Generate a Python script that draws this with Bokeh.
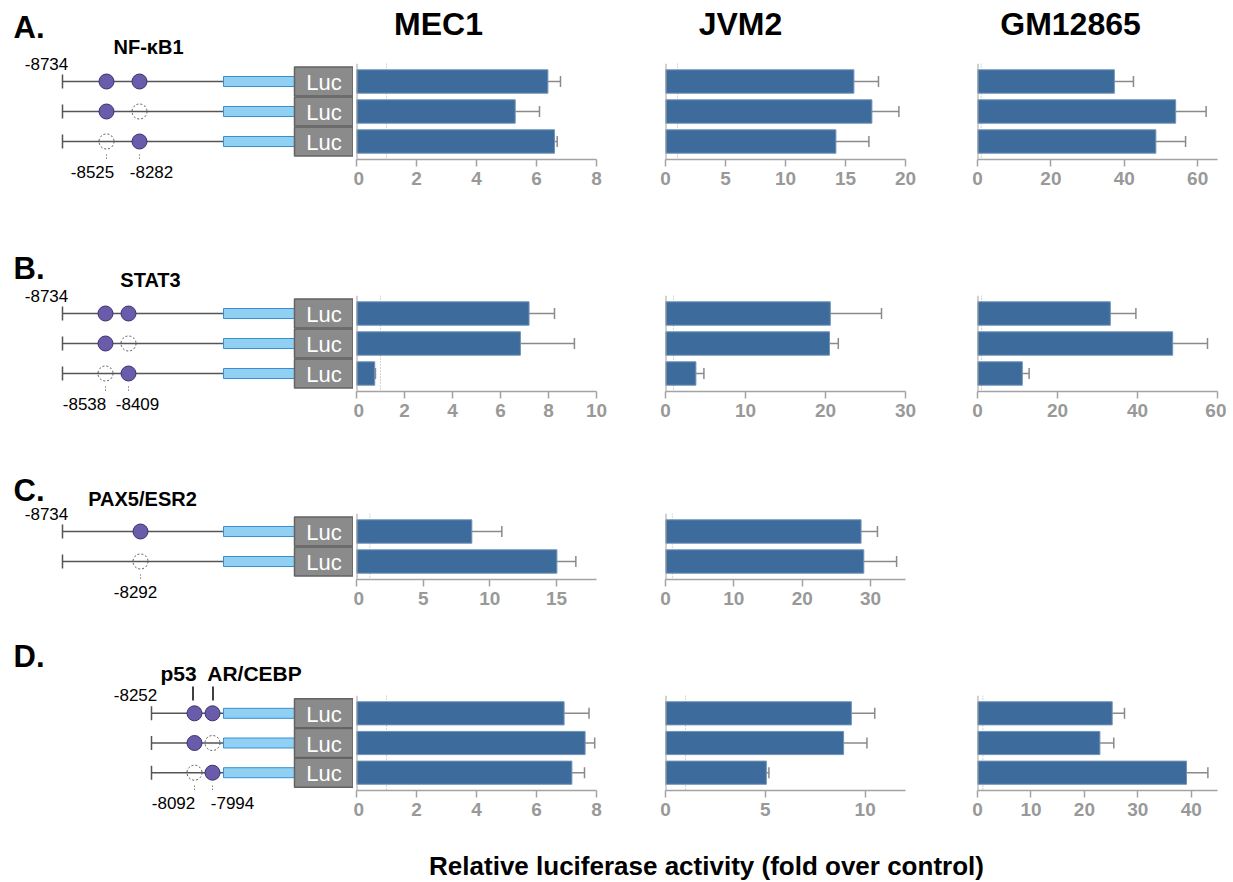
from bokeh.plotting import figure
from bokeh.models import Range1d, FixedTicker, Span, Whisker, TeeHead, ColumnDataSource, Spacer
from bokeh.layouts import row, column
from bokeh.core.properties import value
from bokeh.embed import file_html
from bokeh.resources import INLINE

# ------------------------------------------------------------------ data
cell_lines = ["MEC1", "JVM2", "GM12865"]
panel_letters = ["A.", "B.", "C.", "D."]
x_title = "Relative luciferase activity (fold over control)"

# panel A : NF-kB1 sites (1 = intact, 0 = mutated)
A_factor = "NF-κB1"
A_start = "-8734"
A_site_labels = ["-8525", "-8282"]
A_constructs = [[1, 1], [1, 0], [0, 1]]
A_MEC1 = [6.38, 5.29, 6.60]
A_MEC1_err = [0.42, 0.81, 0.09]
A_JVM2 = [15.7, 17.2, 14.2]
A_JVM2_err = [2.05, 2.25, 2.75]
A_GM = [37.3, 54.0, 48.6]
A_GM_err = [5.2, 8.3, 8.1]
A_ticks = [[0, 2, 4, 6, 8], [0, 5, 10, 15, 20], [0, 20, 40, 60]]
A_xmax = [8, 20, 65.4]

# panel B : STAT3
B_factor = "STAT3"
B_start = "-8734"
B_site_labels = ["-8538", "-8409"]
B_constructs = [[1, 1], [1, 0], [0, 1]]
B_MEC1 = [7.19, 6.83, 0.76]
B_MEC1_err = [1.06, 2.25, 0.03]
B_JVM2 = [20.6, 20.5, 3.8]
B_JVM2_err = [6.4, 1.1, 1.0]
B_GM = [33.2, 48.8, 11.2]
B_GM_err = [6.4, 8.7, 1.7]
B_ticks = [[0, 2, 4, 6, 8, 10], [0, 10, 20, 30], [0, 20, 40, 60]]
B_xmax = [10, 30, 60]

# panel C : PAX5/ESR2
C_factor = "PAX5/ESR2"
C_start = "-8734"
C_site_labels = ["-8292"]
C_constructs = [[1], [0]]
C_MEC1 = [8.65, 15.03]
C_MEC1_err = [2.25, 1.42]
C_JVM2 = [28.6, 29.0]
C_JVM2_err = [2.4, 4.8]
C_ticks = [[0, 5, 10, 15], [0, 10, 20, 30]]
C_xmax = [18, 35.1]

# panel D : p53 and AR/CEBP
D_factors = ["p53", "AR/CEBP"]
D_start = "-8252"
D_site_labels = ["-8092", "-7994"]
D_constructs = [[1, 1], [1, 0], [0, 1]]
D_MEC1 = [6.92, 7.62, 7.18]
D_MEC1_err = [0.83, 0.32, 0.42]
D_JVM2 = [9.31, 8.92, 5.05]
D_JVM2_err = [1.17, 1.17, 0.13]
D_GM = [25.2, 22.9, 39.1]
D_GM_err = [2.3, 2.6, 4.0]
D_ticks = [[0, 2, 4, 6, 8], [0, 5, 10], [0, 10, 20, 30, 40]]
D_xmax = [8, 12.02, 44.9]

# ------------------------------------------------------------------ style
BAR = "#3d6b9c"
BAR_EDGE = "#6f93b8"
ERR = "#8a8a8a"
AXIS = "#a3a3a3"
TICKLAB = "#999999"
PURPLE = "#6a5cab"
PURPLE_EDGE = "#3a3270"
LINE = "#555555"
BLUE = "#8fd0f3"
BLUE_EDGE = "#3a8fd2"
LUC = "#8b8b8b"
LUC_EDGE = "#636363"
FONT = value("Liberation Sans")
PAD = 0.6

# column geometry (left border, frame width, right border)
COLS = [(3, 240, 44), (25, 240, 54), (18, 240, 9)]
DIAG_W = 353
X0 = 0


def style_fig(p):
    p.outline_line_color = None
    p.grid.visible = False
    p.background_fill_color = "white"
    p.border_fill_color = "white"


def bar_chart(vals, errs, ticks, xmax, col, frame_h, top, bottom):
    left, fw, right = COLS[col]
    n = len(vals)
    p = figure(frame_width=fw, frame_height=frame_h,
               x_range=Range1d(0, xmax), y_range=Range1d(n - 1 + PAD, -PAD),
               output_backend="svg", toolbar_location=None, y_axis_location=None,
               min_border_left=left, min_border_right=right,
               min_border_top=top, min_border_bottom=bottom)
    style_fig(p)
    src = ColumnDataSource(dict(y=list(range(n)), val=vals,
                                hi=[v + e for v, e in zip(vals, errs)]))
    p.add_layout(Span(location=1, dimension="height", line_color="#a8a8a8",
                      line_dash="1 2", line_width=1, level="underlay"))
    p.hbar(y="y", left=0, right="val", height=0.78, source=src,
           fill_color=BAR, line_color=BAR_EDGE, line_width=1)
    p.add_layout(Whisker(source=src, base="y", lower="val", upper="hi",
                         dimension="width", line_color=ERR, line_width=1.5,
                         upper_head=TeeHead(size=11, line_color=ERR, line_width=1.5),
                         lower_head=None))
    p.add_layout(Span(location=0, dimension="height", line_color=AXIS, line_width=2))
    ax = p.xaxis[0]
    ax.ticker = FixedTicker(ticks=ticks)
    ax.axis_line_color = AXIS
    ax.axis_line_width = 1.5
    ax.major_tick_line_color = AXIS
    ax.major_tick_line_width = 1.5
    ax.major_tick_out = 7
    ax.major_tick_in = 0
    ax.minor_tick_line_color = None
    ax.major_label_text_color = TICKLAB
    ax.major_label_text_font = "Liberation Sans"
    ax.major_label_text_font_style = "bold"
    ax.major_label_text_font_size = "19px"
    ax.major_label_standoff = 5
    return p


def text_fig(x0, width, y0, height):
    p = figure(frame_width=width, frame_height=height,
               x_range=Range1d(x0, x0 + width), y_range=Range1d(y0 + height, y0),
               output_backend="svg", toolbar_location=None,
               x_axis_location=None, y_axis_location=None,
               min_border_left=0, min_border_right=0, min_border_top=0, min_border_bottom=0)
    style_fig(p)
    return p


def label(p, x, y, txt, size, bold=False, align="center", color="black"):
    p.text(x=[x], y=[y], text=[txt], text_font=FONT, text_font_size=size,
           text_font_style="bold" if bold else "normal", text_align=align,
           text_baseline="middle", text_color=color)


def diagram(fig_top, fig_h, frame_top, frame_h, constructs, start_x, site_x,
            start_lab, site_labels, site_lab_x, letter, letter_y):
    p = text_fig(X0, DIAG_W, fig_top, fig_h)
    n = len(constructs)
    pitch = frame_h / (n - 1 + 2 * PAD)
    ys = [frame_top + (i + PAD) * pitch for i in range(n)]
    label(p, 13, letter_y, letter, "31px", bold=True, align="left")
    # backbone and reporter
    p.segment(x0=[start_x] * n, x1=[223] * n, y0=ys, y1=ys, line_color=LINE, line_width=1.5)
    p.segment(x0=[start_x] * n, x1=[start_x] * n, y0=[y - 7 for y in ys],
              y1=[y + 7 for y in ys], line_color=LINE, line_width=1.5)
    p.quad(left=[223] * n, right=[294] * n, top=[y - 5 for y in ys], bottom=[y + 5 for y in ys],
           fill_color=BLUE, line_color=BLUE_EDGE, line_width=1)
    p.quad(left=[294] * n, right=[352.5] * n, top=[y - 14.5 for y in ys],
           bottom=[y + 14.5 for y in ys], fill_color=LUC, line_color=LUC_EDGE, line_width=1.5)
    p.text(x=[323.5] * n, y=[y + 1 for y in ys], text=["Luc"] * n, text_font=FONT,
           text_font_size="22px", text_color="white", text_align="center",
           text_baseline="middle")
    # binding sites
    fx, fy, ox, oy = [], [], [], []
    for y, states in zip(ys, constructs):
        for sx, s in zip(site_x, states):
            (fx if s else ox).append(sx)
            (fy if s else oy).append(y)
    p.scatter(x=fx, y=fy, size=15, marker="circle", fill_color=PURPLE,
              line_color=PURPLE_EDGE, line_width=1)
    p.scatter(x=ox, y=oy, size=15, marker="circle", fill_color=None,
              line_color=LINE, line_width=1, line_dash="2 2")
    # position labels
    label(p, start_x - 16, ys[0] - 18, start_lab, "17px")
    yb = ys[-1]
    p.segment(x0=site_x, x1=site_x, y0=[yb + 13] * len(site_x), y1=[yb + 18] * len(site_x),
              line_color="#444444", line_width=1, line_dash="1 2")
    for lx, lab in zip(site_lab_x, site_labels):
        label(p, lx, yb + 30, lab, "17px")
    return p


# ------------------------------------------------------------------ rows
# Row A  (page y 0 - 200)
diagA = diagram(0, 200, 63, 96, A_constructs, 62, [106, 139], A_start, A_site_labels,
                [92, 151], panel_letters[0], 27)
label(diagA, 148, 46, A_factor, "20px", bold=True)
header = text_fig(DIAG_W, 872, 0, 50)
for cx, name in zip([438, 740, 1070], cell_lines):
    label(header, cx, 23, name, "32px", bold=True)
A_vals = [(A_MEC1, A_MEC1_err), (A_JVM2, A_JVM2_err), (A_GM, A_GM_err)]
chartsA = [bar_chart(v, e, A_ticks[i], A_xmax[i], i, 96, 13, 41) for i, (v, e) in enumerate(A_vals)]
rowA = row(column(diagA), column(header, row(*chartsA)))

# Row B  (200 - 430)
diagB = diagram(200, 230, 295, 96, B_constructs, 62, [105, 128], B_start, B_site_labels,
                [84, 137], panel_letters[1], 268)
label(diagB, 150, 279, B_factor, "20px", bold=True)
B_vals = [(B_MEC1, B_MEC1_err), (B_JVM2, B_JVM2_err), (B_GM, B_GM_err)]
chartsB = [bar_chart(v, e, B_ticks[i], B_xmax[i], i, 96, 95, 39) for i, (v, e) in enumerate(B_vals)]
rowB = row(column(diagB), row(*chartsB))

# Row C  (430 - 625)
diagC = diagram(430, 195, 513, 66, C_constructs, 62, [140], C_start, C_site_labels,
                [135], panel_letters[2], 490)
label(diagC, 142, 498, C_factor, "20px", bold=True)
C_vals = [(C_MEC1, C_MEC1_err), (C_JVM2, C_JVM2_err)]
chartsC = [bar_chart(v, e, C_ticks[i], C_xmax[i], i, 66, 83, 46) for i, (v, e) in enumerate(C_vals)]
rowC = row(column(diagC), row(*chartsC, Spacer(width=267, height=195)))

# Row D  (625 - 835)
diagD = diagram(625, 210, 695, 95, D_constructs, 151, [194, 212], D_start, D_site_labels,
                [173, 232], panel_letters[3], 656)
label(diagD, 178, 673, D_factors[0], "21px", bold=True)
label(diagD, 254, 673, D_factors[1], "21px", bold=True)
diagD.segment(x0=[192.5, 212.5], x1=[192.5, 212.5], y0=[686, 686], y1=[700, 700],
              line_color="black", line_width=1.5)
D_vals = [(D_MEC1, D_MEC1_err), (D_JVM2, D_JVM2_err), (D_GM, D_GM_err)]
chartsD = [bar_chart(v, e, D_ticks[i], D_xmax[i], i, 95, 70, 45) for i, (v, e) in enumerate(D_vals)]
rowD = row(column(diagD), row(*chartsD))

# bottom title  (835 - 880)
bottom = text_fig(0, 1226, 835, 45)
label(bottom, 706, 865, x_title, "26px", bold=True)

layout = column(rowA, rowB, rowC, rowD, bottom)

open("out.html", "w").write(file_html(layout, INLINE))
